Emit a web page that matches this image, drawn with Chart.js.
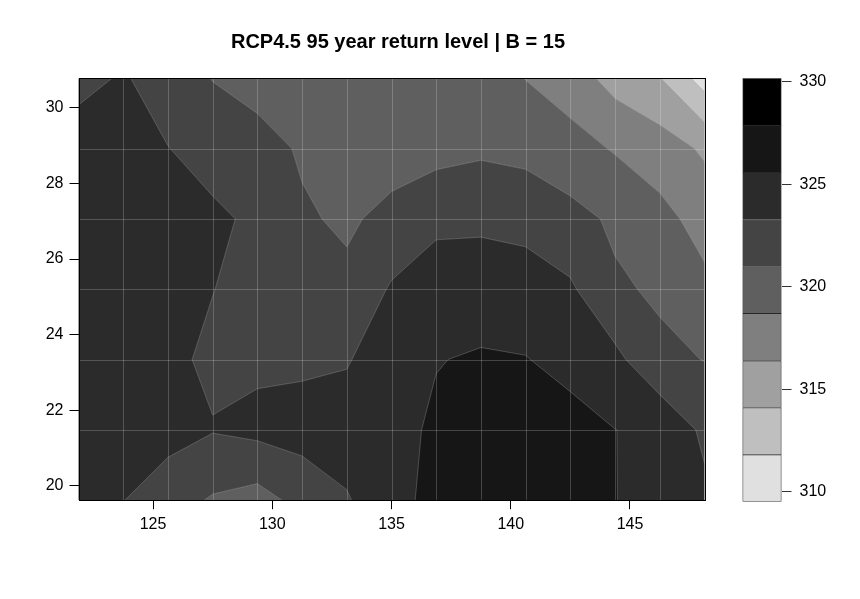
<!DOCTYPE html>
<html>
<head>
<meta charset="utf-8">
<script src="https://cdn.jsdelivr.net/npm/chart.js@4.4.0/dist/chart.umd.min.js"></script>
<style>
  html, body { margin: 0; padding: 0; background: #fff; }
  #wrap { position: relative; width: 860px; height: 599px; }
  #wrap canvas { position: absolute; left: 0; top: 0; }
</style>
</head>
<body>
<div id="wrap">
  <canvas id="fieldChart" width="860" height="599"></canvas>
  <canvas id="keyChart" width="860" height="599"></canvas>
</div>
<script>
const chartTitle = "RCP4.5 95 year return level | B = 15"

// model grid: longitude columns and latitude rows (south to north)
const lons = [121.875, 123.75, 125.625, 127.5, 129.375, 131.25, 133.125, 135, 136.875, 138.75, 140.625, 142.5, 144.375, 146.25, 148.125]
const lats = [19.62, 21.48, 23.34, 25.20, 27.06, 28.92, 30.78]

// return level at every grid point, one array per latitude row
const row1962 = [324.21, 323.34, 321.99, 320.77, 320.11, 321.73, 323.09, 324.97, 326.14, 326.51, 326.51, 326.28, 325.63, 324.90, 323.78]
const row2148 = [324.44, 324.44, 324.12, 323.41, 323.87, 324.21, 324.42, 325.18, 325.79, 326.28, 326.39, 326.28, 325.61, 325.13, 322.84]
const row2334 = [324.44, 324.44, 323.82, 322.84, 322.88, 322.88, 323.11, 324.67, 325.54, 325.73, 325.66, 325.01, 323.87, 321.46, 320.95]
const row2520 = [324.67, 324.67, 324.44, 323.34, 322.42, 322.15, 321.69, 323.50, 324.90, 324.92, 324.51, 323.61, 321.30, 320.70, 319.23]
const row2706 = [324.67, 324.67, 324.44, 323.73, 322.86, 321.37, 320.54, 321.85, 322.61, 322.72, 322.49, 321.69, 320.66, 319.39, 317.88]
const row2892 = [324.40, 324.44, 323.34, 322.38, 322.15, 320.66, 320.08, 319.67, 320.31, 320.66, 320.38, 319.58, 318.52, 317.54, 316.07]
const row3078 = [322.61, 323.52, 322.15, 320.93, 319.85, 319.62, 319.74, 319.85, 319.85, 319.81, 318.66, 317.56, 315.54, 314.19, 310.79]
const levelRows = [row1962, row2148, row2334, row2520, row2706, row2892, row3078]

// contour cut points and the grey for each band (lowest first)
const levels = [309.53, 311.82, 314.12, 316.41, 318.71, 321.00, 323.29, 325.59, 327.88, 330.18]
const bandColors = ["#e0e0e0", "#bfbfbf", "#a0a0a0", "#7f7f7f", "#5f5f5f", "#444444", "#2b2b2b", "#161616", "#000000"]

const xTicks = [125, 130, 135, 140, 145]
const yTicks = [20, 22, 24, 26, 28, 30]
const keyTicks = [310, 315, 320, 325, 330]

Chart.defaults.font.family = "'Liberation Sans', Arial, Helvetica, sans-serif"
Chart.defaults.color = "#000"

const gridPoints = []
lats.forEach((lat, j) => lons.forEach((lon, i) => gridPoints.push({x: lon, y: lat, z: levelRows[j][i]})))

// keep the part of a polygon above (or below) one level, values interpolated along edges
function clipByLevel(poly, level, keepAbove) {
    const out = []
    for (let i = 0; i < poly.length; i++) {
        const a = poly[i]
        const b = poly[(i + 1) % poly.length]
        const inA = keepAbove ? a.v >= level : a.v <= level
        const inB = keepAbove ? b.v >= level : b.v <= level
        if (inA) out.push(a)
        if (inA !== inB) {
            const t = (level - a.v) / (b.v - a.v)
            out.push({x: a.x + t * (b.x - a.x), y: a.y + t * (b.y - a.y), v: level})
        }
    }
    return out
}

function cellCorners(i, j) {
    return [
        {x: lons[i], y: lats[j], v: levelRows[j][i]},
        {x: lons[i + 1], y: lats[j], v: levelRows[j][i + 1]},
        {x: lons[i + 1], y: lats[j + 1], v: levelRows[j + 1][i + 1]},
        {x: lons[i], y: lats[j + 1], v: levelRows[j + 1][i]}
    ]
}

const contourPlugin = {
    id: 'contourFill',
    beforeDatasetsDraw(chart) {
        const {ctx, chartArea, scales} = chart
        const px = v => scales.x.getPixelForValue(v)
        const py = v => scales.y.getPixelForValue(v)

        ctx.save()
        ctx.beginPath()
        ctx.rect(chartArea.left, chartArea.top, chartArea.right - chartArea.left, chartArea.bottom - chartArea.top)
        ctx.clip()
        ctx.fillStyle = bandColors[6]
        ctx.fillRect(chartArea.left, chartArea.top, chartArea.right - chartArea.left, chartArea.bottom - chartArea.top)

        // filled bands
        for (let k = 0; k < bandColors.length; k++) {
            ctx.beginPath()
            for (let j = 0; j < lats.length - 1; j++) {
                for (let i = 0; i < lons.length - 1; i++) {
                    let poly = cellCorners(i, j)
                    if (k > 0) poly = clipByLevel(poly, levels[k], true)
                    if (k < bandColors.length - 1) poly = clipByLevel(poly, levels[k + 1], false)
                    if (poly.length < 3) continue
                    ctx.moveTo(px(poly[0].x), py(poly[0].y))
                    for (let p = 1; p < poly.length; p++) ctx.lineTo(px(poly[p].x), py(poly[p].y))
                    ctx.closePath()
                }
            }
            ctx.fillStyle = bandColors[k]
            ctx.fill()
        }

        // contour lines
        ctx.beginPath()
        for (let k = 1; k < levels.length - 1; k++) {
            const L = levels[k]
            for (let j = 0; j < lats.length - 1; j++) {
                for (let i = 0; i < lons.length - 1; i++) {
                    const c = cellCorners(i, j)
                    const pts = []
                    for (let e = 0; e < 4; e++) {
                        const a = c[e], b = c[(e + 1) % 4]
                        if ((a.v < L) !== (b.v < L)) {
                            const t = (L - a.v) / (b.v - a.v)
                            pts.push([px(a.x + t * (b.x - a.x)), py(a.y + t * (b.y - a.y))])
                        } else {
                            pts.push(null)
                        }
                    }
                    const hits = pts.filter(p => p)
                    if (hits.length === 2) {
                        ctx.moveTo(hits[0][0], hits[0][1])
                        ctx.lineTo(hits[1][0], hits[1][1])
                    } else if (hits.length === 4) {
                        const mid = (c[0].v + c[1].v + c[2].v + c[3].v) / 4
                        const pairs = ((mid < L) === (c[0].v < L)) ? [[0, 1], [2, 3]] : [[3, 0], [1, 2]]
                        pairs.forEach(([p, q]) => {
                            ctx.moveTo(pts[p][0], pts[p][1])
                            ctx.lineTo(pts[q][0], pts[q][1])
                        })
                    }
                }
            }
        }
        ctx.strokeStyle = 'rgba(255,255,255,0.2)'
        ctx.lineWidth = 1
        ctx.stroke()

        // grid lines at the model points
        ctx.beginPath()
        lons.slice(1, -1).forEach(lon => {
            const x = Math.round(px(lon)) + 0.5
            ctx.moveTo(x, chartArea.top)
            ctx.lineTo(x, chartArea.bottom)
        })
        lats.slice(1, -1).forEach(lat => {
            const y = Math.round(py(lat)) + 0.5
            ctx.moveTo(chartArea.left, y)
            ctx.lineTo(chartArea.right, y)
        })
        ctx.strokeStyle = 'rgba(255,255,255,0.2)'
        ctx.stroke()
        ctx.restore()
    },
    afterDraw(chart) {
        const {ctx, chartArea} = chart
        ctx.save()
        ctx.strokeStyle = '#000'
        ctx.lineWidth = 1
        ctx.strokeRect(Math.round(chartArea.left) + 0.5, Math.round(chartArea.top) + 0.5,
            Math.round(chartArea.right - chartArea.left), Math.round(chartArea.bottom - chartArea.top))
        ctx.restore()
    }
}

const fieldChart = new Chart(document.getElementById('fieldChart'), {
    type: 'scatter',
    data: {
        datasets: [{
            data: gridPoints,
            pointRadius: 0,
            pointHoverRadius: 0,
            showLine: false
        }]
    },
    options: {
        responsive: false,
        animation: false,
        events: [],
        // right padding + spacer axis keep room for the colour key, title centred like the original
        layout: {padding: {left: 0, right: 64, top: 0, bottom: 0}},
        plugins: {
            legend: {display: false},
            tooltip: {enabled: false},
            title: {
                display: true,
                text: chartTitle,
                fullSize: true,
                color: '#000',
                font: {size: 20, weight: 'bold'},
                padding: {top: 30, bottom: 24.3}
            }
        },
        scales: {
            x: {
                type: 'linear',
                min: lons[0],
                max: lons[lons.length - 1],
                afterBuildTicks: s => { s.ticks = xTicks.map(v => ({value: v})) },
                afterFit: s => { s.height = 599 - 500.2 },
                grid: {drawOnChartArea: false, drawTicks: true, tickLength: 9, color: '#000'},
                border: {display: false},
                ticks: {font: {size: 16}, color: '#000', padding: 6, maxRotation: 0}
            },
            y: {
                type: 'linear',
                min: lats[0],
                max: lats[lats.length - 1],
                afterBuildTicks: s => { s.ticks = yTicks.map(v => ({value: v})) },
                afterFit: s => { s.width = 78.5 },
                grid: {drawOnChartArea: false, drawTicks: true, tickLength: 9, color: '#000'},
                border: {display: false},
                ticks: {font: {size: 16}, color: '#000', padding: 6}
            },
            keySpace: {
                type: 'linear',
                position: 'right',
                afterFit: s => { s.width = 91.5 },
                grid: {display: false, drawTicks: false},
                border: {display: false},
                ticks: {display: false}
            }
        }
    },
    plugins: [contourPlugin]
})

const keyChart = new Chart(document.getElementById('keyChart'), {
    type: 'bar',
    data: {
        labels: [''],
        datasets: bandColors.map((c, k) => ({
            data: [[levels[k], levels[k + 1]]],
            backgroundColor: c,
            borderColor: '#262626',
            borderWidth: {top: 1, left: 1, right: 1, bottom: k === 0 ? 1 : 0},
            borderSkipped: false,
            grouped: false,
            barPercentage: 1,
            categoryPercentage: 1
        }))
    },
    options: {
        responsive: false,
        animation: false,
        events: [],
        layout: {padding: {left: 742.5, right: 0, top: 78.3, bottom: 599 - 501.6}},
        plugins: {legend: {display: false}, tooltip: {enabled: false}},
        scales: {
            x: {display: false},
            y: {
                position: 'right',
                min: levels[0],
                max: levels[levels.length - 1],
                afterBuildTicks: s => { s.ticks = keyTicks.map(v => ({value: v})) },
                afterFit: s => { s.width = 860 - 781.5 },
                grid: {drawOnChartArea: false, drawTicks: true, tickLength: 10, color: '#333'},
                border: {display: false},
                ticks: {font: {size: 16}, color: '#000', padding: 8}
            }
        }
    }
})
</script>
</body>
</html>
